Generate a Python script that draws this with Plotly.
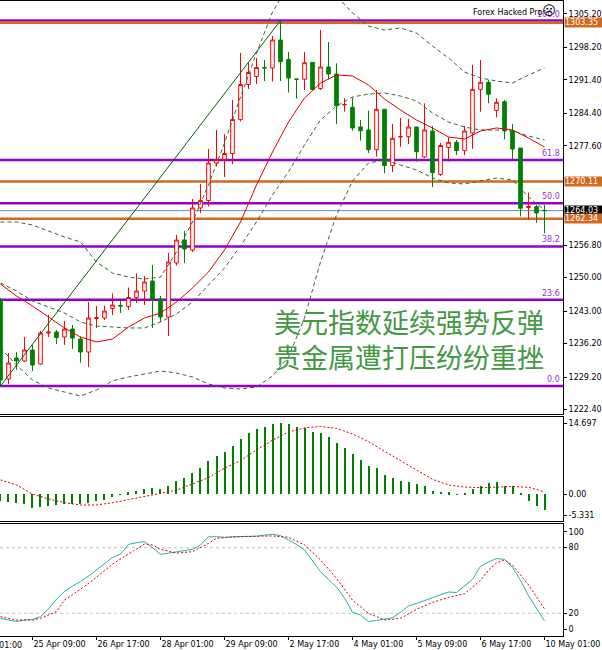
import plotly.graph_objects as go

# 4H bars, index 0 = first visible candle (24 Apr 17:00)
bar = list(range(69))

opens = [1245.33, 1228.79, 1233.19, 1232.56, 1234.86, 1231.93, 1238.42, 1238.63, 1237.58, 1239.26,
         1237.16, 1234.44, 1241.45, 1241.56, 1243.55, 1244.17, 1243.96, 1245.85, 1247.21, 1249.30,
         1245.53, 1241.77, 1253.07, 1257.88, 1255.79, 1264.58, 1266.15, 1273.99, 1274.73, 1275.98,
         1283.10, 1290.42, 1292.09, 1293.98, 1293.87, 1299.73, 1295.65, 1291.57, 1291.51, 1295.06,
         1289.58, 1294.08, 1292.62, 1286.13, 1285.65, 1281.53, 1280.90, 1276.78, 1285.23, 1273.47,
         1279.43, 1279.50, 1281.53, 1275.25, 1280.69, 1271.59, 1277.24, 1278.32, 1276.57, 1280.27,
         1289.41, 1290.88, 1284.98, 1286.82, 1280.69, 1277.13, 1264.68, 1264.85, 1264.10]
highs = [1245.74, 1234.24, 1234.44, 1237.58, 1235.91, 1238.84, 1242.19, 1239.05, 1240.93, 1240.09,
         1237.69, 1244.91, 1244.07, 1244.17, 1246.69, 1245.33, 1247.94, 1250.87, 1250.35, 1252.65,
         1246.16, 1255.16, 1258.93, 1259.76, 1266.46, 1269.60, 1276.92, 1280.90, 1280.06, 1287.18,
         1297.01, 1294.92, 1295.96, 1295.55, 1300.57, 1303.81, 1297.22, 1291.57, 1297.22, 1295.13,
         1301.82, 1299.31, 1294.85, 1287.53, 1287.70, 1282.99, 1284.94, 1289.27, 1285.23, 1282.15,
         1283.41, 1283.20, 1281.53, 1286.48, 1281.73, 1278.18, 1279.37, 1278.81, 1281.73, 1294.50,
         1295.55, 1291.36, 1287.53, 1287.18, 1282.15, 1277.13, 1267.82, 1265.20, 1265.20]
lows = [1227.33, 1227.75, 1230.68, 1232.35, 1230.47, 1231.72, 1237.58, 1236.12, 1235.91, 1235.07,
        1232.25, 1231.31, 1239.47, 1241.14, 1242.19, 1242.61, 1243.23, 1244.70, 1244.28, 1239.47,
        1240.72, 1237.79, 1252.54, 1253.07, 1255.37, 1263.53, 1264.89, 1273.26, 1271.06, 1273.78,
        1282.68, 1289.48, 1290.52, 1291.15, 1291.05, 1291.15, 1288.74, 1287.49, 1289.27, 1289.06,
        1289.27, 1291.46, 1282.15, 1284.73, 1280.75, 1278.70, 1276.09, 1275.35, 1271.84, 1272.11,
        1277.40, 1277.97, 1274.26, 1275.04, 1268.97, 1271.27, 1274.31, 1275.67, 1275.67, 1276.92,
        1284.73, 1286.48, 1283.51, 1278.95, 1274.77, 1262.80, 1262.17, 1261.44, 1259.28]
closes = [1228.59, 1232.14, 1232.56, 1234.86, 1231.72, 1238.42, 1238.63, 1237.48, 1239.26, 1237.37,
          1234.44, 1241.56, 1241.66, 1243.02, 1244.28, 1244.07, 1245.85, 1247.21, 1249.09, 1245.53,
          1241.77, 1253.28, 1257.88, 1256.00, 1264.58, 1266.15, 1273.99, 1274.73, 1275.98, 1283.10,
          1290.42, 1292.93, 1293.98, 1293.87, 1299.73, 1295.19, 1291.78, 1291.51, 1294.98, 1289.37,
          1294.08, 1292.62, 1285.98, 1286.23, 1281.32, 1280.75, 1276.78, 1285.23, 1273.47, 1279.16,
          1279.54, 1281.53, 1276.36, 1280.90, 1271.96, 1277.65, 1278.32, 1276.57, 1280.69, 1289.41,
          1290.88, 1288.37, 1286.69, 1280.69, 1276.92, 1264.51, 1264.85, 1263.53, 1264.03]

# indicator lines read every second bar
even_bar = list(range(0, 69, 2))
ma_red = [1248.67, 1246.16, 1244.07, 1241.77, 1239.47, 1237.58, 1236.54, 1237.16, 1239.68, 1241.56,
          1242.60, 1244.91, 1247.84, 1251.18, 1255.79, 1261.65, 1269.39, 1276.29, 1282.57, 1287.59,
          1290.73, 1292.41, 1292.20, 1290.31, 1287.38, 1285.08, 1282.99, 1281.32, 1279.43, 1279.01,
          1280.69, 1281.32, 1280.90, 1279.22, 1277.34]
bb_upper = [1261.65, 1261.65, 1261.02, 1259.76, 1258.51, 1257.46, 1253.28, 1250.97, 1250.14, 1249.72,
            1250.14, 1255.37, 1261.65, 1269.39, 1278.18, 1287.80, 1297.01, 1305.59, 1311.24, 1313.96,
            1312.70, 1308.94, 1305.38, 1302.66, 1301.82, 1302.24, 1301.19, 1298.47, 1295.96, 1293.03,
            1291.78, 1291.15, 1290.73, 1292.41, 1293.87]
bb_mid = [1248.88, 1247.21, 1245.12, 1243.86, 1242.60, 1240.72, 1239.88, 1239.68, 1239.47, 1239.47,
          1240.72, 1242.40, 1244.91, 1248.46, 1252.02, 1256.62, 1261.65, 1267.30, 1272.11, 1277.76,
          1282.99, 1285.92, 1287.80, 1288.43, 1288.64, 1288.01, 1286.97, 1284.45, 1282.57, 1281.53,
          1280.90, 1280.90, 1280.69, 1279.64, 1278.80]
bb_lower = [1235.28, 1231.72, 1228.58, 1226.91, 1226.07, 1225.24, 1226.49, 1228.38, 1229.21, 1229.84,
            1230.47, 1230.05, 1229.21, 1227.75, 1226.91, 1226.70, 1227.12, 1229.42, 1233.40, 1241.56,
            1253.28, 1263.11, 1270.23, 1273.99, 1274.62, 1273.57, 1272.53, 1270.85, 1269.81, 1269.60,
            1270.23, 1270.85, 1270.43, 1266.88, 1264.16]

macd_hist = [-1.40, -1.66, -1.86, -2.07, -2.75, -2.55, -2.42, -2.21, -2.07, -2.07,
             -1.93, -1.72, -1.39, -1.24, -0.48, 0.04, 0.41, 0.68, 1.10, 1.39,
             1.10, 1.80, 2.75, 3.46, 4.49, 5.53, 6.89, 7.93, 8.69, 10.00,
             11.45, 12.77, 13.45, 14.01, 14.55, 14.70, 14.49, 14.01, 13.66, 12.98,
             12.63, 11.94, 10.70, 9.67, 8.34, 7.10, 5.86, 5.53, 4.00, 3.46,
             2.84, 2.48, 2.13, 1.80, 0.77, 0.56, 0.41, 0.06, 0.21, 1.10,
             1.80, 2.28, 2.48, 1.80, 1.80, 0.21, -1.39, -2.34, -3.25]
macd_signal = [2.97, 1.95, 0.05, -0.95, -1.75, -2.21, -2.21, -1.75, -1.10, -0.40,
               0.30, 0.85, 2.14, 3.45, 5.40, 6.95, 9.20, 11.20, 12.90, 13.75,
               14.05, 13.65, 12.50, 10.90, 8.90, 7.00, 5.00, 3.10, 1.95, 1.50,
               1.37, 1.55, 1.60, 1.45, 0.50]

stoch_main = [15.4, 14, 12.5, 13.9, 14.3, 17, 24, 33, 40, 45,
              49, 54, 59.6, 66, 71, 74, 83, 84.5, 85.5, 80,
              74, 75, 76, 77.5, 78.5, 82.5, 90, 90, 89.5, 90,
              90, 90, 90.5, 91.5, 92.3, 91, 87, 83, 78, 68,
              58, 51, 44, 34, 21, 18.4, 12.5, 13.5, 14.5, 16,
              21, 26.7, 29, 31.5, 34.5, 36.5, 39.5, 39, 45, 51,
              63, 67, 70, 69.4, 62, 50, 36, 24, 13]
stoch_sig_bar = [0, 2, 4, 5, 7, 8, 10, 12, 14, 16, 18, 19, 20, 22, 24, 26, 27, 30, 34, 36,
                 38, 40, 42, 44, 46, 48, 50, 52, 54, 56, 58, 60, 61, 62, 63, 64, 66, 68]
stoch_sig = [16.9, 13.9, 13.9, 15.4, 21.5, 32, 42, 53, 65, 74, 83.4, 82.5, 78.5, 75, 76.4, 84, 88.6, 90.1, 90.7, 89.5,
             82.5, 68.8, 52, 32, 20, 13.9, 15.4, 23.7, 30, 34.5, 38, 50, 59.6, 66, 68.8, 64, 46, 24]

# drawing objects
fib_low, fib_high = 1227.33, 1303.81
swing_bar = [0, 35]
fib_levels = [0.0, 23.6, 38.2, 50.0, 61.8, 100.0]
orange_levels = [1303.35, 1270.11, 1262.34]
bid_price = 1264.03

price_ticks = [1305.20, 1298.20, 1291.40, 1284.40, 1277.60, 1256.80, 1250.00,
               1243.00, 1236.20, 1229.20, 1222.40]
time_tick_bar = [4, 12, 20, 28, 36, 44, 52, 60, 68]
time_tick_text = ["25 Apr 09:00", "26 Apr 17:00", "28 Apr 01:00", "29 Apr 09:00", "2 May 17:00",
                  "4 May 01:00", "5 May 09:00", "6 May 17:00", "10 May 01:00"]
first_label_bar, first_label_text = -4, "24 Apr 01:00"   # left of the first visible bar

FONT = "DejaVu Sans"
PURPLE = "#9400D3"
ORANGE = "#D2691E"
BAR_PX = 8  # pixels between bars at this zoom

fig = go.Figure()

fig.add_trace(go.Candlestick(
    x=bar, open=opens, high=highs, low=lows, close=closes,
    increasing=dict(line=dict(color="#FF0000", width=1), fillcolor="white"),
    decreasing=dict(line=dict(color="#008000", width=1), fillcolor="#008000"),
    whiskerwidth=0, xaxis="x", yaxis="y", hoverinfo="skip"))

for band in (bb_upper, bb_mid, bb_lower):
    fig.add_trace(go.Scatter(x=even_bar, y=band, mode="lines", xaxis="x", yaxis="y",
                             line=dict(color="#2E6B2E", width=1, dash="4px,3px")))
fig.add_trace(go.Scatter(x=even_bar, y=ma_red, mode="lines", xaxis="x", yaxis="y",
                         line=dict(color="#E00000", width=1)))
fig.add_trace(go.Scatter(x=swing_bar, y=[fib_low, fib_high], mode="lines", xaxis="x", yaxis="y",
                         line=dict(color="#0A5A0A", width=1)))

# MACD
fig.add_trace(go.Bar(x=bar, y=macd_hist, width=0.25, marker=dict(color="#008000", line=dict(width=0)),
                     xaxis="x2", yaxis="y2"))
fig.add_trace(go.Scatter(x=even_bar, y=macd_signal, mode="lines", xaxis="x2", yaxis="y2",
                         line=dict(color="#D00000", width=1, dash="2px,2px")))

# Stochastic
fig.add_trace(go.Scatter(x=bar, y=stoch_main, mode="lines", xaxis="x3", yaxis="y3",
                         line=dict(color="#20B2AA", width=1)))
fig.add_trace(go.Scatter(x=stoch_sig_bar, y=stoch_sig, mode="lines", xaxis="x3", yaxis="y3",
                         line=dict(color="#D00000", width=1, dash="2px,2px")))

shapes = []
annotations = []
for lvl in fib_levels:
    p = fib_low + lvl / 100 * (fib_high - fib_low)
    shapes.append(dict(type="line", xref="paper", x0=0, x1=1, yref="y", y0=p, y1=p,
                       line=dict(color=PURPLE, width=2.5), layer="below"))
    annotations.append(dict(xref="paper", x=1, xshift=-1, xanchor="right", yref="y", y=p,
                            yanchor="bottom", text=f"{lvl:.1f}", showarrow=False,
                            font=dict(family=FONT, size=8, color="#9932CC")))
for p in orange_levels:
    shapes.append(dict(type="line", xref="paper", x0=0, x1=1, yref="y", y0=p, y1=p,
                       line=dict(color=ORANGE, width=2.5), layer="below"))
shapes.append(dict(type="line", xref="paper", x0=0, x1=1, yref="y", y0=bid_price, y1=bid_price,
                   line=dict(color="#7A8A99", width=1), layer="below"))
for lv in (80, 20):
    shapes.append(dict(type="line", xref="paper", x0=0, x1=1, yref="y3", y0=lv, y1=lv,
                       line=dict(color="#C0C0C0", width=1, dash="3px,3px"), layer="below"))


def price_box(p, color):
    return dict(xref="paper", x=1, xshift=1, xanchor="left", yref="y", y=p, yanchor="middle",
                text=f"{p:.2f}", showarrow=False, bgcolor=color, borderpad=0, width=40, height=9,
                align="left", valign="middle",
                font=dict(family=FONT, size=8, color="white"))


annotations.append(price_box(bid_price, "black"))
for p in orange_levels:
    annotations.append(price_box(p, ORANGE))

annotations.append(dict(xref="paper", x=0.9911, xanchor="right", yref="paper", y=0.9858,
                        yanchor="middle", showarrow=False,
                        text='Forex Hacked Pro<span style="font-size:13px">☹</span>',
                        font=dict(family=FONT, size=8, color="black")))
annotations.append(dict(xref="paper", x=0.4831, xanchor="left", yref="paper", y=0.467,
                        yanchor="middle", align="left", showarrow=False,
                        text="美元指数延续强势反弹<br>贵金属遭打压纷纷重挫",
                        font=dict(family="Noto Sans CJK SC", size=27, color="#449944")))
# the cut-off first time label: anchored on bar 0 and shifted left by whole bars
annotations.append(dict(xref="x3", x=0, xshift=first_label_bar * BAR_PX, xanchor="left",
                        yref="paper", y=-0.0142, yanchor="middle", showarrow=False,
                        text=first_label_text, font=dict(family=FONT, size=8, color="black")))

xcommon = dict(range=[-0.06, 70.31], showline=True, mirror=True, linecolor="black", linewidth=1,
               showgrid=False, zeroline=False, fixedrange=True)
ycommon = dict(side="right", showline=True, linecolor="black", linewidth=1, showgrid=False,
               zeroline=False, ticks="outside", ticklen=3, tickcolor="black", fixedrange=True,
               tickfont=dict(family=FONT, size=8, color="black"))

fig.update_layout(
    width=602, height=650,
    margin=dict(l=0, r=39, t=1, b=14),
    paper_bgcolor="white", plot_bgcolor="white",
    showlegend=False, boxgap=0.35, bargap=0,
    xaxis=dict(**xcommon, anchor="y", showticklabels=False, ticks="",
               rangeslider=dict(visible=False)),
    xaxis2=dict(**xcommon, anchor="y2", matches="x", showticklabels=False, ticks=""),
    xaxis3=dict(**xcommon, anchor="y3", matches="x", tickvals=time_tick_bar, ticktext=time_tick_text,
                ticks="outside", ticklen=3, tickcolor="black", ticklabelposition="outside right",
                tickfont=dict(family=FONT, size=8, color="black")),
    yaxis=dict(**ycommon, domain=[0.3496, 1.0], anchor="x", range=[1221.47, 1307.89],
               tickvals=price_ticks, ticktext=[f"{v:.2f}" for v in price_ticks]),
    yaxis2=dict(**ycommon, domain=[0.1811, 0.3449], anchor="x2", range=[-5.53, 16.0],
                tickvals=[14.697, 0.0, -4.3], ticktext=["14.697", "0.00", "-5.331"]),
    yaxis3=dict(**ycommon, domain=[0.0, 0.1756], anchor="x3", range=[-0.73, 101.19],
                tickvals=[94.6, 80, 20, 5.4], ticktext=["100", "80", "20", "0"]),
    shapes=shapes,
    annotations=annotations,
)

# page body has a default 8px margin; drop it so the chart fills the window
fig.write_html("out.html", config={"displayModeBar": False},
               post_script="document.body.style.margin='0';")
